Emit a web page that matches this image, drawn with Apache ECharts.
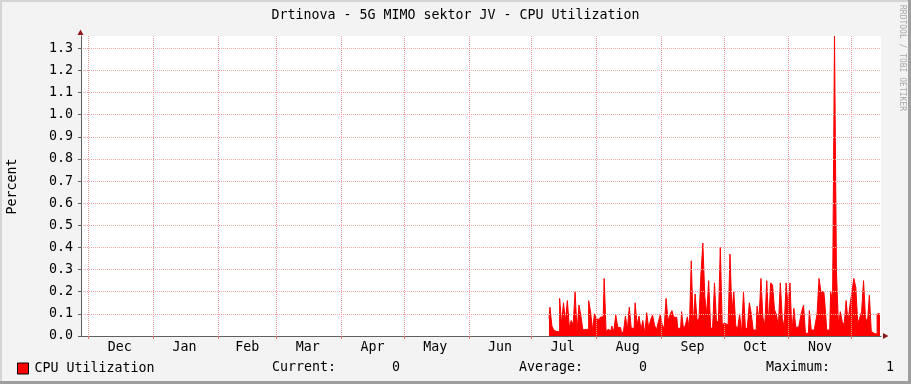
<!DOCTYPE html>
<html><head><meta charset="utf-8">
<script src="https://cdn.jsdelivr.net/npm/echarts@6/dist/echarts.min.js"></script>
<style>html,body{margin:0;padding:0;background:#f3f3f3}#c{width:911px;height:384px}</style>
</head><body><div id="c"></div>
<script>
const titleText = 'Drtinova - 5G MIMO sektor JV - CPU Utilization';
const seriesName = 'CPU Utilization';
const yAxisName = 'Percent';
const watermark = 'RRDTOOL / TOBI OETIKER';
const monthLabels = ['Dec','Jan','Feb','Mar','Apr','May','Jun','Jul','Aug','Sep','Oct','Nov'];
const monthStarts = ['2022-12-01','2023-01-01','2023-02-01','2023-03-01','2023-04-01','2023-05-01','2023-06-01','2023-07-01','2023-08-01','2023-09-01','2023-10-01','2023-11-01','2023-12-01'];
const labelDates = ['2022-12-16','2023-01-16','2023-02-15','2023-03-16','2023-04-16','2023-05-16','2023-06-16','2023-07-16','2023-08-16','2023-09-16','2023-10-16','2023-11-16'];
const yTicks = [0,0.1,0.2,0.3,0.4,0.5,0.6,0.7,0.8,0.9,1.0,1.1,1.2,1.3];
const yMax = 1.3556;
const axisStart = '2022-11-27T12:15:00Z';
const axisEnd = '2023-12-15T05:00:00Z';
const dataStart = '2023-07-09T09:00:00Z';
const dataEnd = '2023-12-14T17:30:00Z';
const statLabels = ['Current:', 'Average:', 'Maximum:'];
const cpuValues = [
 0.08,0.13,0.045,0.027,0.02,0.02,0.17,0.057,0.15,0.07,0.16,0.04,0.07,0.05,0.2,0.02,0.14,0.09,0.027,0.03,0.03,0.16,0.11,0.027,0.1,0.077,0.075,0.085,0.087,0.26,0.02,0.03,0.024,0.045,0.02,0.095,0.04,0.038,0.012,0.022,0.09,0.03,
 0.13,0.035,0.035,0.15,0.05,0.09,0.03,0.07,0.012,0.105,0.035,0.072,0.095,0.05,0.027,0.065,0.095,0.05,0.035,0.17,0.07,0.095,0.115,0.085,0.085,0.035,0.035,0.11,0.032,0.05,0.087,0.03,0.34,0.05,0.19,0.07,0.08,0.28,0.42,0.18,0.1,0.25,0.04,
 0.03,0.24,0.07,0.06,0.40,0.053,0.057,0.05,0.035,0.37,0.11,0.2,0.045,0.035,0.1,0.012,0.2,0.027,0.04,0.15,0.1,0.027,0.027,0.135,0.07,0.26,0.085,0.05,0.25,0.05,0.24,0.23,0.12,0.095,0.045,0.24,0.08,0.04,0.24,0.135,0.24,
 0.02,0.125,0.04,0.04,0.065,0.11,0.14,0.012,0.012,0.115,0.027,0.027,0.05,0.1,0.26,0.2,0.2,0.15,0.027,0.027,0.2,0.16,1.355,0.29,0.057,0.11,0.065,0.05,0.16,0.065,0.14,0.2,0.26,0.22,0.057,0.08,0.11,0.25,0.085,0.057,0.185,0.02,0.012,0.008,0.1,0.1
];

const DAY = 86400000;
const ts = s => Date.parse(s.length === 10 ? s + 'T00:00:00Z' : s);
const origin = ts(axisStart);
const toDay = s => (ts(s) - origin) / DAY;
const monthPos = monthStarts.map(toDay);
const labelPos = labelDates.map(toDay);
const d0 = toDay(dataStart), d1 = toDay(dataEnd);
const seriesData = cpuValues.map((v, i) => [d0 + i * (d1 - d0) / (cpuValues.length - 1), v]);
const statValues = [
  cpuValues[cpuValues.length - 1],
  cpuValues.reduce((a, b) => a + b, 0) / cpuValues.length,
  Math.max.apply(null, cpuValues)
];
const mono = 'DejaVu Sans Mono';
const fs = 13.3;

const chart = echarts.init(document.getElementById('c'), null, {renderer: 'canvas'});
const statX = [272, 519, 766];
const graphics = [
  {type:'rect', shape:{x:0,y:0,width:911,height:2}, style:{fill:'#d4d4d4'}, silent:true},
  {type:'rect', shape:{x:0,y:0,width:2,height:384}, style:{fill:'#d4d4d4'}, silent:true},
  {type:'rect', shape:{x:0,y:381,width:911,height:3}, style:{fill:'#9e9e9e'}, silent:true},
  {type:'rect', shape:{x:908,y:0,width:3,height:384}, style:{fill:'#9e9e9e'}, silent:true},
  {type:'polygon', shape:{points:[[77.5,35],[83.5,35],[80.5,29.5]]}, style:{fill:'#8e1a1a'}, z:10},
  {type:'polygon', shape:{points:[[883,333],[883,339],[888.5,336]]}, style:{fill:'#8e1a1a'}, z:10},
  {type:'text', x:12.5, y:186.5, rotation:Math.PI/2, style:{text:yAxisName, font:fs+'px "'+mono+'"', fill:'#000', align:'center', verticalAlign:'middle'}},
  {type:'text', x:902, y:5, rotation:-Math.PI/2, style:{text:watermark, font:'8px "'+mono+'"', fill:'#a8a8a8', align:'left', verticalAlign:'middle'}}
];
statLabels.forEach((lab, i) => {
  graphics.push({type:'text', x:statX[i], y:368, style:{text: lab + statValues[i].toFixed(0).padStart(8, ' '), font:fs+'px "'+mono+'"', fill:'#000', align:'left', verticalAlign:'middle'}});
});

chart.setOption({
  animation: false,
  backgroundColor: '#f3f3f3',
  title: {text: titleText, left: 'center', top: 4, textStyle: {fontFamily: mono, fontSize: fs, fontWeight: 'normal', color: '#000'}},
  legend: {
    data: [seriesName], left: 12, top: 357, icon: 'rect', itemWidth: 11, itemHeight: 11,
    itemStyle: {color: '#ff0000', borderColor: '#000', borderWidth: 1},
    textStyle: {fontFamily: mono, fontSize: fs, color: '#000', padding: [0,0,0,1]}
  },
  grid: {left: 81, right: 30, top: 36, bottom: 48, show: true, backgroundColor: '#ffffff', borderWidth: 0, containLabel: false},
  xAxis: {
    type: 'value', min: 0, max: toDay(axisEnd), z: 3,
    axisLine: {show: true, lineStyle: {color: '#606060', width: 1}},
    axisTick: {show: true, customValues: monthPos, length: 3, lineStyle: {color: '#e07070'}},
    splitLine: {show: true, lineStyle: {color: '#f19a9a', type: [1, 1], width: 1}},
    axisLabel: {
      customValues: labelPos, margin: 5, color: '#000', fontFamily: mono, fontSize: fs,
      formatter: v => { let best = 0; labelPos.forEach((t, i) => { if (Math.abs(t - v) < Math.abs(labelPos[best] - v)) best = i; }); return monthLabels[best]; }
    }
  },
  yAxis: {
    type: 'value', min: 0, max: yMax, interval: 0.1, z: 3,
    axisLine: {show: true, lineStyle: {color: '#606060', width: 1}},
    axisTick: {show: true, customValues: yTicks, length: 3, lineStyle: {color: '#606060'}},
    splitLine: {show: true, lineStyle: {color: '#f3a8a8', type: [1, 1], width: 1}},
    axisLabel: {customValues: yTicks, margin: 8, color: '#000', fontFamily: mono, fontSize: fs, formatter: v => v.toFixed(1)}
  },
  series: [{
    name: seriesName, type: 'line', step: 'middle', data: seriesData, z: 2,
    showSymbol: false, symbol: 'none',
    itemStyle: {color: '#ff0000'},
    lineStyle: {color: '#ff0000', width: 1},
    areaStyle: {color: '#ff0000', opacity: 1}
  }],
  graphic: graphics
});
</script></body></html>
